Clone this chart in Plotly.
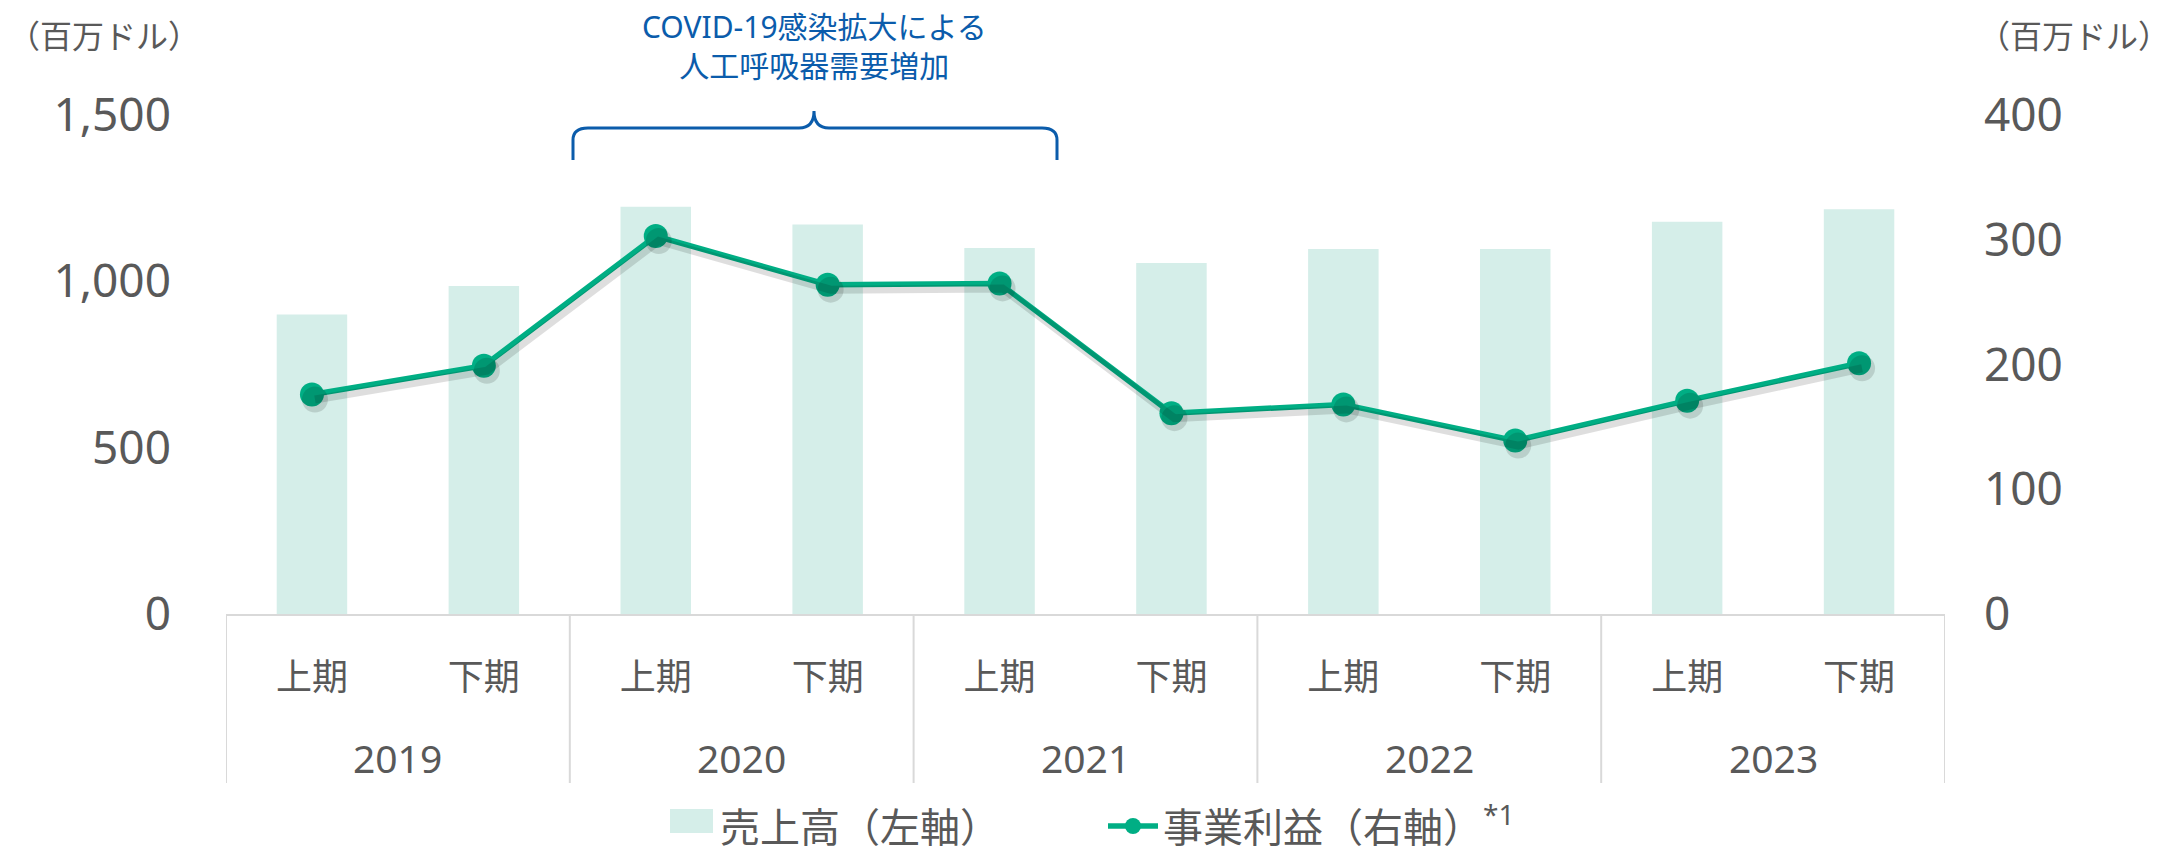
import plotly.graph_objects as go

years = ["2019", "2019", "2020", "2020", "2021", "2021", "2022", "2022", "2023", "2023"]
halves = ["上期", "下期", "上期", "下期", "上期", "下期", "上期", "下期", "上期", "下期"]
sales = [900, 986, 1224, 1171, 1100, 1055, 1097, 1097, 1179, 1217]
profit = [176, 199, 303, 264, 265, 161, 168, 139, 171, 201]

FONT = "Noto Sans, Noto Sans CJK JP"
GREY = "#595959"
BLUE = "#0B5CAB"
GREEN = "#00AE84"
BAR = "#D5EEE9"
AXIS = "#D9D9D9"

W, H = 2174, 855
L, R, T, B = 226, 229, 115, 241
ph = H - T - B
pw = W - L - R

def py(p):
    return (H - B - p) / ph

def px(p):
    return (p - L) / pw

idx = list(range(len(halves)))
n = len(idx)

fig = go.Figure()
fig.add_trace(go.Bar(
    x=idx, y=sales, name="売上高（左軸）",
    marker=dict(color=BAR, line=dict(width=0)), yaxis="y",
))
# soft drop shadow for the profit line (same data on slightly shifted scales)
sx = 3 / pw * n
sy = 5 / ph * 400
fig.add_trace(go.Scatter(
    x=idx, y=profit, mode="lines+markers", showlegend=False, hoverinfo="skip",
    line=dict(color="rgba(0,0,0,0.13)", width=8), marker=dict(color="rgba(0,0,0,0.13)", size=26),
    xaxis="x2", yaxis="y3",
))
fig.add_trace(go.Scatter(
    x=idx, y=profit, name="事業利益（右軸）<sup>*1</sup>",
    mode="lines+markers", line=dict(color=GREEN, width=5.5),
    marker=dict(color=GREEN, size=24), yaxis="y2",
))

fig.update_layout(
    width=W, height=H,
    margin=dict(l=L, r=R, t=T, b=B, autoexpand=False),
    plot_bgcolor="white", paper_bgcolor="white",
    font=dict(family=FONT, color=GREY, size=36),
    bargap=0.59,
    showlegend=True,
    legend=dict(orientation="h", x=px(660), xanchor="left", y=py(826), yanchor="middle",
                font=dict(size=40, color=GREY), itemwidth=50,
                entrywidth=378, entrywidthmode="pixels",
                traceorder="normal", bgcolor="rgba(0,0,0,0)"),
    xaxis=dict(range=[-0.5, n - 0.5], tickvals=idx, ticktext=halves, showline=True,
               linecolor=AXIS, linewidth=2, ticks="", showgrid=False, zeroline=False,
               tickfont=dict(size=36, color=GREY), ticklabelstandoff=31, automargin=False),
    xaxis2=dict(range=[-0.5 - sx, n - 0.5 - sx], overlaying="x", visible=False),
    yaxis=dict(range=[0, 1500], dtick=500, tickformat=",", showgrid=False, zeroline=False,
               showline=False, tickfont=dict(size=46, color=GREY), ticklabelstandoff=54,
               automargin=False),
    yaxis2=dict(range=[0, 400], dtick=100, overlaying="y", side="right", showgrid=False,
                zeroline=False, showline=False, tickfont=dict(size=46, color=GREY),
                ticklabelstandoff=38, automargin=False),
    yaxis3=dict(range=[sy, 400 + sy], overlaying="y", visible=False),
)

# larger legend swatch for the bar series (sits behind the legend's own small square)
fig.add_shape(type="rect", xref="paper", yref="paper", x0=px(670), x1=px(713),
              y0=py(833), y1=py(809), fillcolor=BAR, line=dict(width=0), layer="below")

# year labels and group dividers
groups = []
for i, yv in enumerate(years):
    if not groups or groups[-1][0] != yv:
        groups.append([yv, i, i])
    else:
        groups[-1][2] = i
for yv, a, b in groups:
    fig.add_annotation(text=yv, xref="x", yref="paper", x=(a + b) / 2, y=py(757),
                       xanchor="center", yanchor="middle", showarrow=False,
                       font=dict(size=39, color=GREY))
bounds = [g[1] - 0.5 for g in groups] + [groups[-1][2] + 0.5]
for bx in bounds:
    fig.add_shape(type="line", xref="x", yref="paper", x0=bx, x1=bx, y0=0, y1=py(783),
                  line=dict(color=AXIS, width=2))

# axis unit labels
fig.add_annotation(text="（百万ドル）", xref="paper", yref="paper", x=px(6), y=py(35),
                   xanchor="left", yanchor="middle", showarrow=False,
                   font=dict(size=32, color=GREY))
fig.add_annotation(text="（百万ドル）", xref="paper", yref="paper", x=px(2172), y=py(35),
                   xanchor="right", yanchor="middle", showarrow=False,
                   font=dict(size=32, color=GREY))

# COVID annotation
fig.add_annotation(text="COVID-19感染拡大による<br>人工呼吸器需要増加", xref="paper", yref="paper",
                   x=px(814), y=py(46), xanchor="center", yanchor="middle", showarrow=False,
                   font=dict(size=30, color=BLUE), align="center")

# brace
x0, x1, xm = px(573), px(1057), px(814)
yb, yh, yt = py(160), py(128), py(111)
r = px(588) - px(573)
ry = py(128) - py(140)
path = (f"M {x0},{yb} L {x0},{yh - ry} Q {x0},{yh} {x0 + r},{yh} "
        f"L {xm - r},{yh} Q {xm},{yh} {xm},{yt} "
        f"Q {xm},{yh} {xm + r},{yh} L {x1 - r},{yh} Q {x1},{yh} {x1},{yh - ry} L {x1},{yb}")
fig.add_shape(type="path", path=path, xref="paper", yref="paper",
              line=dict(color=BLUE, width=3))

fig.write_html("out.html", config={"displayModeBar": False},
               post_script="document.body.style.margin='0';")
